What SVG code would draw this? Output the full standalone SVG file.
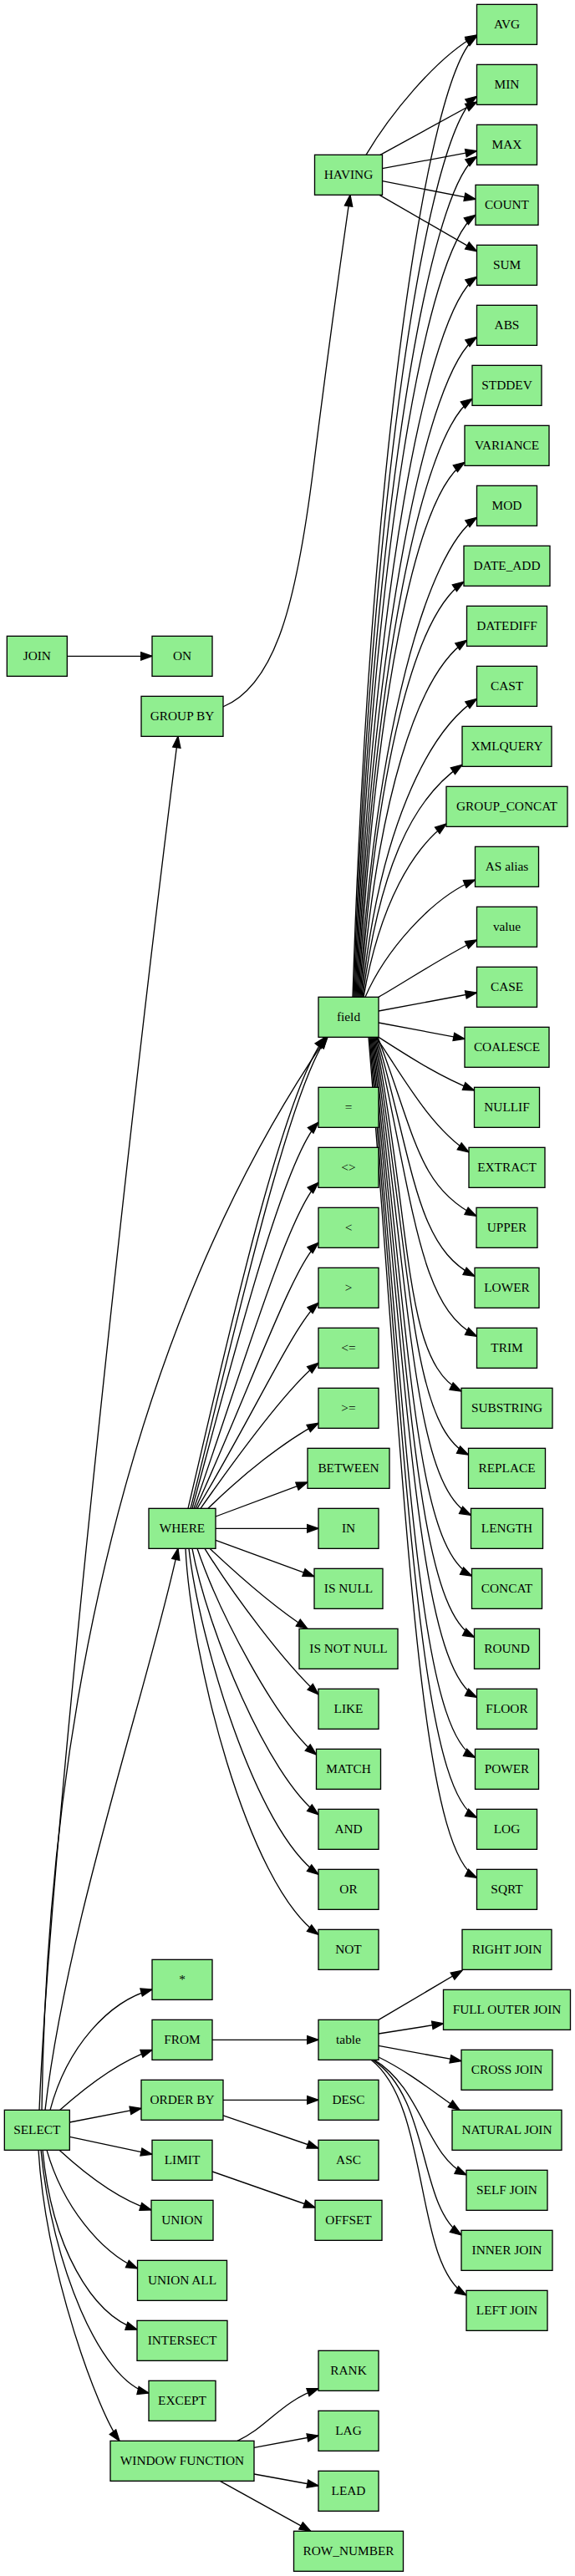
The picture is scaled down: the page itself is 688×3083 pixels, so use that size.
<svg xmlns="http://www.w3.org/2000/svg" width="688" height="3083" viewBox="0 0 688 3083">
<style>
.node rect{fill:#90ee90;stroke:#000;stroke-width:1.33}
.node text{font-family:"Liberation Serif","Times New Roman",serif;font-size:15.33px;text-anchor:middle;fill:#000}
.edges path{fill:none;stroke:#000;stroke-width:1.33;marker-end:url(#ah)}
</style>
<defs>
<marker id="ah" markerUnits="userSpaceOnUse" markerWidth="14" markerHeight="10" refX="13.33" refY="4.67" orient="auto" overflow="visible">
<path d="M0,0 L13.33,4.67 L0,9.33 z" fill="#000" stroke="#000" stroke-width="1.33"/>
</marker>
</defs>
<rect width="688" height="3083" fill="#fff"/>
<g class="edges" id="edges">
<path d="M80.33,785.33 L182,785.33"/>
<path d="M47,2525.33 C60,2200 160,1300 213,881.33"/>
<path d="M50,2525.33 C58,1950 200,1520 391,1241.33"/>
<path d="M54,2525.33 C80,2300 180,2010 213,1853.33"/>
<path d="M60,2525.33 C80,2450 130,2395 182,2381"/>
<path d="M71.7,2525.33 C100,2500 140,2468 182,2453.3"/>
<path d="M83.33,2540 L169,2523.3"/>
<path d="M83.33,2557.3 L182,2578.3"/>
<path d="M71,2573.33 C100,2600 140,2632 181,2645"/>
<path d="M56,2573.33 C75,2640 120,2695 164.5,2715"/>
<path d="M51,2573.33 C62,2690 110,2770 164,2788"/>
<path d="M49,2573.33 C62,2710 120,2850 178,2864"/>
<path d="M46,2573.33 C55,2720 118,2888 143,2921.33"/>
<path d="M266.67,846 C330,820 355,720 375,560 C390,440 405,330 419,233.33"/>
<path d="M438,185.33 C465,140 520,70 570.5,42"/>
<path d="M455,185.33 L570.5,122"/>
<path d="M457.5,201.7 L570.5,180.7"/>
<path d="M457.5,216.7 L569,238.3"/>
<path d="M454,233.33 L570.5,300.7"/>
<path d="M422,1193.33 C442,560.8 510.5,83.33 570.5,43.33"/>
<path d="M423,1193.33 C443,600.4 510.5,155.33 570.5,115.33"/>
<path d="M424,1193.33 C444,640 510.5,227.33 570.5,187.33"/>
<path d="M425,1193.33 C445,678.5 509,297.33 569,257.33"/>
<path d="M426,1193.33 C446,719.2 510.5,371.33 570.5,331.33"/>
<path d="M427,1193.33 C447,758.8 510.5,443.33 570.5,403.33"/>
<path d="M428,1193.33 C448,799.5 505,517.33 565,477.33"/>
<path d="M429,1193.33 C449,841.3 496,593.33 556,553.33"/>
<path d="M430,1193.33 C450,877.6 510.5,659.33 570.5,619.33"/>
<path d="M431,1193.33 C451,920 495,736.33 555,696.33"/>
<path d="M432,1193.33 C452,958.5 498.5,806.33 558.5,766.33"/>
<path d="M433,1193.33 C453,997 510.5,876.33 570.5,836.33"/>
<path d="M434,1193.33 C454,1040.4 493,955.33 553,915.33"/>
<path d="M435,1193.33 C455,1079.3 495,1015 534,986"/>
<path d="M437,1193.33 C460,1140 515,1075 568.5,1053"/>
<path d="M453,1193.33 C485,1175 530,1145 570.5,1125"/>
<path d="M453,1210 L570.5,1188"/>
<path d="M453,1224 L556,1243.3"/>
<path d="M453,1241.33 C490,1265 525,1288 567.5,1305"/>
<path d="M450,1241.33 C480,1285 515,1350 561,1379"/>
<path d="M452,1241.33 C497,1359 500,1420.33 570,1455.33"/>
<path d="M451,1241.33 C496,1398.6 498,1492.33 568,1527.33"/>
<path d="M450,1241.33 C495,1438.2 500.5,1564.33 570.5,1599.33"/>
<path d="M449,1241.33 C494,1474.3 482,1630 552,1665"/>
<path d="M448,1241.33 C493,1516.2 490.5,1706 560.5,1741"/>
<path d="M447,1241.33 C492,1555.9 493.5,1778.33 563.5,1813.33"/>
<path d="M446,1241.33 C491,1595.9 494.5,1851 564.5,1886"/>
<path d="M445,1241.33 C490,1636.2 497.5,1924.33 567.5,1959.33"/>
<path d="M444,1241.33 C489,1675.8 500.5,1996.33 570.5,2031.33"/>
<path d="M443,1241.33 C488,1715.4 498.5,2068.33 568.5,2103.33"/>
<path d="M442,1241.33 C487,1755 500.5,2140.33 570.5,2175.33"/>
<path d="M441,1241.33 C486,1794.6 500.5,2212.33 570.5,2247.33"/>
<path d="M228,1805.33 C270,1640 345,1300 392,1241.33"/>
<path d="M225,1805.33 C262,1650 335,1310 389,1241.33"/>
<path d="M230,1805.33 C280,1620 340,1385 381,1343.3"/>
<path d="M232,1805.33 C290,1640 345,1450 381,1415.3"/>
<path d="M234,1805.33 C300,1660 350,1515 381,1487.3"/>
<path d="M236,1805.33 C305,1690 352,1585 381,1559.3"/>
<path d="M240,1805.33 C300,1720 350,1655 381,1631.3"/>
<path d="M249,1805.33 C290,1765 340,1725 381,1703.3"/>
<path d="M258,1815 L368,1774"/>
<path d="M258,1829.33 L381,1829.33"/>
<path d="M258,1843.3 L376,1886.7"/>
<path d="M251,1853.33 C290,1890 330,1925 368,1949.33"/>
<path d="M245,1853.33 C280,1910 340,1990 381,2028"/>
<path d="M236,1853.33 C262,1930 330,2060 378.5,2100"/>
<path d="M230,1853.33 C248,1950 320,2125 381,2171.7"/>
<path d="M226,1853.33 C238,1960 305,2190 381,2243.3"/>
<path d="M222,1853.33 C228,1980 295,2255 381,2315.3"/>
<path d="M254,2441.33 L381,2441.33"/>
<path d="M453,2417.33 L553,2358.3"/>
<path d="M453,2434 L530.5,2421.7"/>
<path d="M453,2448.3 L552,2466.7"/>
<path d="M453,2462 C490,2480 520,2505 550,2525.33"/>
<path d="M448,2465.33 C505,2500 510,2580 558,2603"/>
<path d="M446,2465.33 C515,2510 500,2640 552,2675"/>
<path d="M444,2465.33 C515,2520 495,2710 558,2747"/>
<path d="M267,2513.33 L381,2513.33"/>
<path d="M267,2531.8 L381,2571"/>
<path d="M254,2599 L377,2642"/>
<path d="M284,2921.33 C320,2905 335,2875 381,2858.7"/>
<path d="M304,2929.3 L381,2915"/>
<path d="M304,2961 L381,2975"/>
<path d="M263.3,2969.33 L371.7,3029.33"/>
</g>
<g id="n_JOIN" class="node"><rect x="8.33" y="761.33" width="72" height="48"/><text x="44.33" y="789.83">JOIN</text></g>
<g id="n_SELECT" class="node"><rect x="5.33" y="2525.33" width="78" height="48"/><text x="44.33" y="2553.83">SELECT</text></g>
<g id="n_ON" class="node"><rect x="182" y="761.33" width="72" height="48"/><text x="218" y="789.83">ON</text></g>
<g id="n_GROUP_BY" class="node"><rect x="169" y="833.33" width="98" height="48"/><text x="218" y="861.83">GROUP BY</text></g>
<g id="n_WHERE" class="node"><rect x="178" y="1805.33" width="80" height="48"/><text x="218" y="1833.83">WHERE</text></g>
<g id="n_star" class="node"><rect x="182" y="2345.33" width="72" height="48"/><text x="218" y="2373.83">*</text></g>
<g id="n_FROM" class="node"><rect x="182" y="2417.33" width="72" height="48"/><text x="218" y="2445.83">FROM</text></g>
<g id="n_ORDER_BY" class="node"><rect x="169" y="2489.33" width="98" height="48"/><text x="218" y="2517.83">ORDER BY</text></g>
<g id="n_LIMIT" class="node"><rect x="182" y="2561.33" width="72" height="48"/><text x="218" y="2589.83">LIMIT</text></g>
<g id="n_UNION" class="node"><rect x="181" y="2633.33" width="74" height="48"/><text x="218" y="2661.83">UNION</text></g>
<g id="n_UNION_ALL" class="node"><rect x="164.5" y="2705.33" width="107" height="48"/><text x="218" y="2733.83">UNION ALL</text></g>
<g id="n_INTERSECT" class="node"><rect x="164" y="2777.33" width="108" height="48"/><text x="218" y="2805.83">INTERSECT</text></g>
<g id="n_EXCEPT" class="node"><rect x="178" y="2849.33" width="80" height="48"/><text x="218" y="2877.83">EXCEPT</text></g>
<g id="n_WINDOW_FUNCTION" class="node"><rect x="132" y="2921.33" width="172" height="48"/><text x="218" y="2949.83">WINDOW FUNCTION</text></g>
<g id="n_HAVING" class="node"><rect x="376.5" y="185.33" width="81" height="48"/><text x="417" y="213.83">HAVING</text></g>
<g id="n_field" class="node"><rect x="381" y="1193.33" width="72" height="48"/><text x="417" y="1221.83">field</text></g>
<g id="n_eq" class="node"><rect x="381" y="1301.33" width="72" height="48"/><text x="417" y="1329.83">=</text></g>
<g id="n_ne" class="node"><rect x="381" y="1373.33" width="72" height="48"/><text x="417" y="1401.83">&lt;&gt;</text></g>
<g id="n_lt" class="node"><rect x="381" y="1445.33" width="72" height="48"/><text x="417" y="1473.83">&lt;</text></g>
<g id="n_gt" class="node"><rect x="381" y="1517.33" width="72" height="48"/><text x="417" y="1545.83">&gt;</text></g>
<g id="n_le" class="node"><rect x="381" y="1589.33" width="72" height="48"/><text x="417" y="1617.83">&lt;=</text></g>
<g id="n_ge" class="node"><rect x="381" y="1661.33" width="72" height="48"/><text x="417" y="1689.83">&gt;=</text></g>
<g id="n_BETWEEN" class="node"><rect x="368" y="1733.33" width="98" height="48"/><text x="417" y="1761.83">BETWEEN</text></g>
<g id="n_IN" class="node"><rect x="381" y="1805.33" width="72" height="48"/><text x="417" y="1833.83">IN</text></g>
<g id="n_IS_NULL" class="node"><rect x="376" y="1877.33" width="82" height="48"/><text x="417" y="1905.83">IS NULL</text></g>
<g id="n_IS_NOT_NULL" class="node"><rect x="358" y="1949.33" width="118" height="48"/><text x="417" y="1977.83">IS NOT NULL</text></g>
<g id="n_LIKE" class="node"><rect x="381" y="2021.33" width="72" height="48"/><text x="417" y="2049.83">LIKE</text></g>
<g id="n_MATCH" class="node"><rect x="378.5" y="2093.33" width="77" height="48"/><text x="417" y="2121.83">MATCH</text></g>
<g id="n_AND" class="node"><rect x="381" y="2165.33" width="72" height="48"/><text x="417" y="2193.83">AND</text></g>
<g id="n_OR" class="node"><rect x="381" y="2237.33" width="72" height="48"/><text x="417" y="2265.83">OR</text></g>
<g id="n_NOT" class="node"><rect x="381" y="2309.33" width="72" height="48"/><text x="417" y="2337.83">NOT</text></g>
<g id="n_table" class="node"><rect x="381" y="2417.33" width="72" height="48"/><text x="417" y="2445.83">table</text></g>
<g id="n_DESC" class="node"><rect x="381" y="2489.33" width="72" height="48"/><text x="417" y="2517.83">DESC</text></g>
<g id="n_ASC" class="node"><rect x="381" y="2561.33" width="72" height="48"/><text x="417" y="2589.83">ASC</text></g>
<g id="n_OFFSET" class="node"><rect x="377" y="2633.33" width="80" height="48"/><text x="417" y="2661.83">OFFSET</text></g>
<g id="n_RANK" class="node"><rect x="381" y="2813.33" width="72" height="48"/><text x="417" y="2841.83">RANK</text></g>
<g id="n_LAG" class="node"><rect x="381" y="2885.33" width="72" height="48"/><text x="417" y="2913.83">LAG</text></g>
<g id="n_LEAD" class="node"><rect x="381" y="2957.33" width="72" height="48"/><text x="417" y="2985.83">LEAD</text></g>
<g id="n_ROW_NUMBER" class="node"><rect x="351.5" y="3029.33" width="131" height="48"/><text x="417" y="3057.83">ROW_NUMBER</text></g>
<g id="n_AVG" class="node"><rect x="570.5" y="5.33" width="72" height="48"/><text x="606.5" y="33.83">AVG</text></g>
<g id="n_MIN" class="node"><rect x="570.5" y="77.33" width="72" height="48"/><text x="606.5" y="105.83">MIN</text></g>
<g id="n_MAX" class="node"><rect x="570.5" y="149.33" width="72" height="48"/><text x="606.5" y="177.83">MAX</text></g>
<g id="n_COUNT" class="node"><rect x="569" y="221.33" width="75" height="48"/><text x="606.5" y="249.83">COUNT</text></g>
<g id="n_SUM" class="node"><rect x="570.5" y="293.33" width="72" height="48"/><text x="606.5" y="321.83">SUM</text></g>
<g id="n_ABS" class="node"><rect x="570.5" y="365.33" width="72" height="48"/><text x="606.5" y="393.83">ABS</text></g>
<g id="n_STDDEV" class="node"><rect x="565" y="437.33" width="83" height="48"/><text x="606.5" y="465.83">STDDEV</text></g>
<g id="n_VARIANCE" class="node"><rect x="556" y="509.33" width="101" height="48"/><text x="606.5" y="537.83">VARIANCE</text></g>
<g id="n_MOD" class="node"><rect x="570.5" y="581.33" width="72" height="48"/><text x="606.5" y="609.83">MOD</text></g>
<g id="n_DATE_ADD" class="node"><rect x="555" y="653.33" width="103" height="48"/><text x="606.5" y="681.83">DATE_ADD</text></g>
<g id="n_DATEDIFF" class="node"><rect x="558.5" y="725.33" width="96" height="48"/><text x="606.5" y="753.83">DATEDIFF</text></g>
<g id="n_CAST" class="node"><rect x="570.5" y="797.33" width="72" height="48"/><text x="606.5" y="825.83">CAST</text></g>
<g id="n_XMLQUERY" class="node"><rect x="553" y="869.33" width="107" height="48"/><text x="606.5" y="897.83">XMLQUERY</text></g>
<g id="n_GROUP_CONCAT" class="node"><rect x="534" y="941.33" width="145" height="48"/><text x="606.5" y="969.83">GROUP_CONCAT</text></g>
<g id="n_AS_alias" class="node"><rect x="568.5" y="1013.33" width="76" height="48"/><text x="606.5" y="1041.83">AS alias</text></g>
<g id="n_value" class="node"><rect x="570.5" y="1085.33" width="72" height="48"/><text x="606.5" y="1113.83">value</text></g>
<g id="n_CASE" class="node"><rect x="570.5" y="1157.33" width="72" height="48"/><text x="606.5" y="1185.83">CASE</text></g>
<g id="n_COALESCE" class="node"><rect x="556" y="1229.33" width="101" height="48"/><text x="606.5" y="1257.83">COALESCE</text></g>
<g id="n_NULLIF" class="node"><rect x="567.5" y="1301.33" width="78" height="48"/><text x="606.5" y="1329.83">NULLIF</text></g>
<g id="n_EXTRACT" class="node"><rect x="561" y="1373.33" width="91" height="48"/><text x="606.5" y="1401.83">EXTRACT</text></g>
<g id="n_UPPER" class="node"><rect x="570" y="1445.33" width="73" height="48"/><text x="606.5" y="1473.83">UPPER</text></g>
<g id="n_LOWER" class="node"><rect x="568" y="1517.33" width="77" height="48"/><text x="606.5" y="1545.83">LOWER</text></g>
<g id="n_TRIM" class="node"><rect x="570.5" y="1589.33" width="72" height="48"/><text x="606.5" y="1617.83">TRIM</text></g>
<g id="n_SUBSTRING" class="node"><rect x="552" y="1661.33" width="109" height="48"/><text x="606.5" y="1689.83">SUBSTRING</text></g>
<g id="n_REPLACE" class="node"><rect x="560.5" y="1733.33" width="92" height="48"/><text x="606.5" y="1761.83">REPLACE</text></g>
<g id="n_LENGTH" class="node"><rect x="563.5" y="1805.33" width="86" height="48"/><text x="606.5" y="1833.83">LENGTH</text></g>
<g id="n_CONCAT" class="node"><rect x="564.5" y="1877.33" width="84" height="48"/><text x="606.5" y="1905.83">CONCAT</text></g>
<g id="n_ROUND" class="node"><rect x="567.5" y="1949.33" width="78" height="48"/><text x="606.5" y="1977.83">ROUND</text></g>
<g id="n_FLOOR" class="node"><rect x="570.5" y="2021.33" width="72" height="48"/><text x="606.5" y="2049.83">FLOOR</text></g>
<g id="n_POWER" class="node"><rect x="568.5" y="2093.33" width="76" height="48"/><text x="606.5" y="2121.83">POWER</text></g>
<g id="n_LOG" class="node"><rect x="570.5" y="2165.33" width="72" height="48"/><text x="606.5" y="2193.83">LOG</text></g>
<g id="n_SQRT" class="node"><rect x="570.5" y="2237.33" width="72" height="48"/><text x="606.5" y="2265.83">SQRT</text></g>
<g id="n_RIGHT_JOIN" class="node"><rect x="553" y="2309.33" width="107" height="48"/><text x="606.5" y="2337.83">RIGHT JOIN</text></g>
<g id="n_FULL_OUTER_JOIN" class="node"><rect x="530.5" y="2381.33" width="152" height="48"/><text x="606.5" y="2409.83">FULL OUTER JOIN</text></g>
<g id="n_CROSS_JOIN" class="node"><rect x="552" y="2453.33" width="109" height="48"/><text x="606.5" y="2481.83">CROSS JOIN</text></g>
<g id="n_NATURAL_JOIN" class="node"><rect x="541" y="2525.33" width="131" height="48"/><text x="606.5" y="2553.83">NATURAL JOIN</text></g>
<g id="n_SELF_JOIN" class="node"><rect x="558" y="2597.33" width="97" height="48"/><text x="606.5" y="2625.83">SELF JOIN</text></g>
<g id="n_INNER_JOIN" class="node"><rect x="552" y="2669.33" width="109" height="48"/><text x="606.5" y="2697.83">INNER JOIN</text></g>
<g id="n_LEFT_JOIN" class="node"><rect x="558" y="2741.33" width="97" height="48"/><text x="606.5" y="2769.83">LEFT JOIN</text></g>
</svg>
